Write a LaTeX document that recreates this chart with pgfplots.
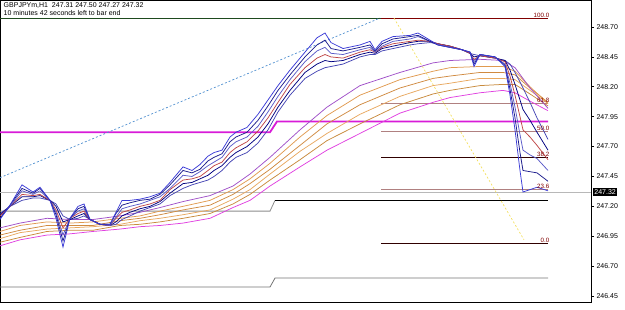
\documentclass[border=0pt]{standalone}
\usepackage{fontspec}
\setmainfont{Liberation Sans}
\usepackage{pgfplots}
\usepackage{pgfplotstable}
\pgfplotsset{compat=1.18}

\definecolor{fa}{HTML}{3A3AD6}
\definecolor{fb}{HTML}{1C1C8C}
\definecolor{fc}{HTML}{5A5AC8}
\definecolor{fd}{HTML}{C04848}
\definecolor{fe}{HTML}{000080}
\definecolor{ff}{HTML}{4646B4}
\definecolor{sa}{HTML}{A050C8}
\definecolor{sb}{HTML}{E09A50}
\definecolor{sc}{HTML}{D08A40}
\definecolor{sd}{HTML}{E8A860}
\definecolor{se}{HTML}{C88A3C}
\definecolor{sf}{HTML}{E040E0}
\definecolor{mag}{HTML}{D81BD8}
\definecolor{fibdark}{HTML}{800000}
\definecolor{fibrose}{HTML}{B08080}
\definecolor{fibblack}{HTML}{300000}
\definecolor{topgreen}{HTML}{1E4A1E}
\definecolor{dotblue}{HTML}{4F8FCF}
\definecolor{dotyellow}{HTML}{F4E060}

\pgfplotstableread{
x f1 f2 f3 f4 f5 f6
0 247.09 247.10 247.10 247.12 247.13 247.14
10 247.21 247.21 247.20 247.20 247.20 247.20
22 247.38 247.35 247.33 247.30 247.28 247.25
33 247.32 247.31 247.30 247.29 247.28 247.27
40 247.36 247.35 247.33 247.30 247.29 247.27
50 247.25 247.25 247.25 247.25 247.25 247.25
56 247.10 247.13 247.15 247.17 247.20 247.22
63 246.86 246.91 246.96 247.02 247.07 247.12
70 247.10 247.10 247.10 247.10 247.09 247.09
78 247.20 247.18 247.16 247.14 247.12 247.10
84 247.22 247.20 247.18 247.16 247.14 247.12
90 247.09 247.09 247.09 247.09 247.09 247.09
100 247.05 247.05 247.05 247.05 247.05 247.05
110 247.05 247.05 247.04 247.04 247.04 247.04
116 247.15 247.14 247.11 247.10 247.07 247.05
122 247.25 247.21 247.18 247.15 247.12 247.09
130 247.25 247.23 247.20 247.17 247.15 247.12
140 247.26 247.25 247.22 247.20 247.18 247.16
150 247.28 247.26 247.25 247.22 247.20 247.19
160 247.31 247.30 247.28 247.25 247.24 247.22
170 247.40 247.38 247.35 247.34 247.31 247.29
183 247.53 247.50 247.46 247.42 247.39 247.35
192 247.50 247.48 247.45 247.43 247.40 247.38
200 247.55 247.51 247.49 247.45 247.43 247.40
208 247.62 247.58 247.54 247.50 247.46 247.42
214 247.65 247.61 247.57 247.54 247.50 247.45
222 247.67 247.64 247.61 247.57 247.54 247.50
230 247.78 247.74 247.70 247.65 247.61 247.57
236 247.82 247.78 247.74 247.69 247.65 247.61
247 247.86 247.82 247.78 247.74 247.70 247.65
258 247.97 247.92 247.87 247.83 247.78 247.73
268 248.09 248.04 247.99 247.94 247.89 247.84
278 248.21 248.17 248.12 248.07 248.03 247.99
290 248.34 248.30 248.26 248.22 248.17 248.13
305 248.49 248.45 248.41 248.36 248.32 248.27
317 248.61 248.55 248.50 248.44 248.39 248.33
325 248.65 248.59 248.53 248.47 248.42 248.36
331 248.57 248.52 248.48 248.45 248.41 248.37
343 248.52 248.50 248.47 248.44 248.42 248.39
360 248.55 248.53 248.51 248.49 248.47 248.45
370 248.58 248.55 248.53 248.51 248.49 248.47
375 248.51 248.50 248.49 248.49 248.48 248.47
382 248.58 248.56 248.54 248.53 248.52 248.50
393 248.62 248.60 248.58 248.56 248.54 248.52
410 248.63 248.62 248.60 248.58 248.57 248.55
418 248.65 248.63 248.62 248.59 248.58 248.56
430 248.59 248.58 248.58 248.58 248.58 248.57
438 248.55 248.55 248.55 248.56 248.56 248.56
450 248.53 248.53 248.53 248.54 248.54 248.54
462 248.51 248.51 248.51 248.51 248.51 248.51
470 248.49 248.49 248.49 248.48 248.48 248.48
474 248.37 248.39 248.41 248.43 248.45 248.47
480 248.47 248.47 248.47 248.46 248.46 248.46
495 248.45 248.45 248.45 248.44 248.44 248.44
505 248.37 248.38 248.39 248.41 248.42 248.42
510 248.13 248.18 248.23 248.29 248.34 248.39
515 247.84 247.94 248.03 248.13 248.22 248.32
520 247.50 247.65 247.80 247.95 248.09 248.24
523 247.32 247.50 247.67 247.84 248.01 248.19
530 247.34 247.49 247.63 247.78 247.92 248.07
537 247.36 247.48 247.60 247.71 247.82 247.94
548 247.33 247.41 247.50 247.59 247.67 247.76
}\fast

\pgfplotstableread{
x s1 s2 s3 s4 s5 s6
0 247.02 246.99 246.96 246.93 246.90 246.87
20 247.06 247.04 247.00 246.98 246.94 246.92
47 247.10 247.07 247.04 247.01 246.99 246.96
70 247.09 247.06 247.04 247.02 247.00 246.97
93 247.09 247.07 247.04 247.03 247.00 246.99
120 247.12 247.10 247.08 247.05 247.04 247.01
140 247.15 247.12 247.10 247.08 247.05 247.03
160 247.19 247.16 247.13 247.10 247.07 247.04
183 247.24 247.20 247.17 247.13 247.10 247.06
210 247.29 247.25 247.21 247.17 247.14 247.10
233 247.37 247.34 247.30 247.26 247.22 247.19
250 247.47 247.43 247.39 247.34 247.30 247.25
270 247.61 247.56 247.51 247.47 247.42 247.37
300 247.84 247.78 247.71 247.66 247.59 247.53
327 248.03 247.96 247.89 247.81 247.75 247.67
360 248.21 248.13 248.05 247.97 247.89 247.81
400 248.32 248.26 248.19 248.12 248.05 247.98
433 248.40 248.33 248.27 248.21 248.14 248.07
450 248.42 248.36 248.29 248.23 248.17 248.11
480 248.43 248.37 248.32 248.27 248.21 248.15
503 248.42 248.37 248.32 248.27 248.22 248.17
515 248.36 248.33 248.30 248.26 248.22 248.15
530 248.19 248.20 248.19 248.17 248.14 248.08
548 248.02 248.06 248.07 248.06 248.04 248.00
}\slow

\begin{document}
\begin{tikzpicture}
\useasboundingbox (0,-7pt) rectangle (625pt,302pt);
\begin{axis}[
  at={(0,0)}, anchor=south west,
  scale only axis, width=591pt, height=302pt,
  xmin=0, xmax=591, ymin=246.40, ymax=248.926,
  axis line style={line width=0.9pt, black},
  xtick=\empty,
  ytick={246.45,246.70,246.95,247.20,247.45,247.70,247.95,248.20,248.45,248.70},
  ytick pos=right, yticklabel pos=right,
  tick align=outside, major tick length=3pt,
  tick style={black, line width=0.6pt},
  yticklabel style={font=\fontsize{7}{8}\selectfont, xshift=-1pt,
    /pgf/number format/.cd, fixed, fixed zerofill, precision=2, assume math mode=true},
  clip=false,
  every axis plot/.append style={line width=0.75pt},
]
% bid line
\addplot[color=black!28, line width=0.8pt] coordinates {(0,247.32) (591,247.32)};
% step lines
\addplot[color=black!45, line width=0.8pt] coordinates {(0,247.16) (270,247.16) (275,247.25)};
\addplot[color=black, line width=0.8pt] coordinates {(275,247.25) (548,247.25)};
\addplot[color=black!55, line width=0.8pt] coordinates {(0,246.525) (270,246.525) (275,246.60) (548,246.60)};
% magenta line
\addplot[color=mag, line width=1.8pt] coordinates {(0,247.82) (270,247.82) (277,247.91) (548,247.91)};
% top green line
\addplot[color=topgreen, line width=0.8pt] coordinates {(0,248.775) (381,248.775)};
% fibonacci levels
\addplot[color=fibdark, line width=0.8pt] coordinates {(381,248.775) (548,248.775)};
\addplot[color=fibrose, line width=1pt] coordinates {(381,248.06) (548,248.06)};
\addplot[color=fibrose, line width=1pt] coordinates {(381,247.83) (548,247.83)};
\addplot[color=fibblack, line width=0.8pt] coordinates {(381,247.61) (548,247.61)};
\addplot[color=fibrose, line width=1pt] coordinates {(381,247.34) (548,247.34)};
\addplot[color=fibblack, line width=0.8pt] coordinates {(381,246.894) (548,246.894)};
% dotted lines
\addplot[color=dotblue, line width=0.7pt, dash pattern=on 2pt off 2pt] coordinates {(0,247.44) (380,248.775)};
\addplot[color=dotyellow, line width=0.7pt, dash pattern=on 2pt off 2pt] coordinates {(394,248.775) (524,246.92)};
% slow ribbon
\addplot[color=sf] table[x=x,y=s6] {\slow};
\addplot[color=se] table[x=x,y=s5] {\slow};
\addplot[color=sd] table[x=x,y=s4] {\slow};
\addplot[color=sc] table[x=x,y=s3] {\slow};
\addplot[color=sb] table[x=x,y=s2] {\slow};
\addplot[color=sa] table[x=x,y=s1] {\slow};
% fast ribbon
\addplot[color=ff] table[x=x,y=f6] {\fast};
\addplot[color=fe] table[x=x,y=f5] {\fast};
\addplot[color=fd] table[x=x,y=f4] {\fast};
\addplot[color=fc] table[x=x,y=f3] {\fast};
\addplot[color=fb] table[x=x,y=f2] {\fast};
\addplot[color=fa] table[x=x,y=f1] {\fast};
% fib labels
\begin{scope}[every node/.style={anchor=south east, inner sep=0.6pt, text=fibdark, font=\fontsize{6.2}{7}\selectfont}]
\node at (axis cs:550,248.775) {100.0};
\node at (axis cs:550,248.06) {61.8};
\node at (axis cs:550,247.83) {50.0};
\node at (axis cs:550,247.61) {38.2};
\node at (axis cs:550,247.34) {23.6};
\node at (axis cs:550,246.894) {0.0};
\end{scope}
% header text
\node[anchor=north west, inner sep=0pt, font=\fontsize{7}{8}\selectfont] at (rel axis cs:0.006,0.992) {GBPJPYm,H1\ \ 247.31 247.50 247.27 247.32};
\node[anchor=north west, inner sep=0pt, font=\fontsize{7}{8}\selectfont] at (rel axis cs:0.006,0.965) {10 minutes 42 seconds left to bar end};
% bid box
\node[anchor=west, fill=black, text=white, inner sep=1.2pt, font=\fontsize{7}{8}\selectfont] at (axis cs:593,247.32) {247.32};
\end{axis}
\end{tikzpicture}
\end{document}
